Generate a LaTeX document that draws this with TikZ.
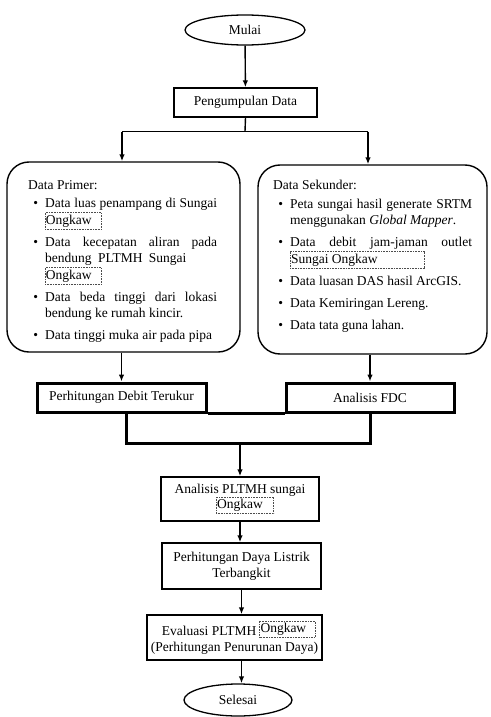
\documentclass[tikz,border=0pt]{standalone}
\usepackage{fontspec}
\setmainfont{Liberation Serif}
\usetikzlibrary{shapes.geometric,arrows.meta}
\hyphenpenalty=10000
\exhyphenpenalty=10000
\hbadness=10000
\newcommand\dotbox[2][0pt]{\tikz[baseline=(db.base)]{\node[inner xsep=0.8pt,inner ysep=2pt,outer sep=0pt,rectangle,draw=none,text width=,minimum width=0pt,minimum height=0pt,align=left](db){#2};\draw[overlay,black!70,densely dotted,line width=0.6pt,rounded corners=0pt] (db.north west) rectangle ([xshift=#1]db.south east);}}
\newenvironment{blist}{\begin{list}{\textbullet}{\setlength{\leftmargin}{17pt}\setlength{\labelsep}{7pt}\setlength{\labelwidth}{10pt}\setlength{\itemsep}{5.5pt}\setlength{\parsep}{0pt}\setlength{\topsep}{2pt}\setlength{\partopsep}{0pt}}}{\end{list}}
\begin{document}
\begin{tikzpicture}[x=1pt,y=-1pt,
  base/.style={font=\fontsize{13.5}{16.5}\selectfont},
  term/.style={ellipse,draw,line width=1.3pt,inner sep=0pt,base},
  proc/.style={rectangle,draw,line width=1.4pt,align=center,inner sep=0pt,base},
  boldbox/.style={rectangle,draw,line width=3pt,align=center,inner sep=0pt,base},
  panel/.style={rectangle,draw,line width=1.4pt,rounded corners=22pt,inner sep=0pt},
  paneltext/.style={anchor=north west,inner sep=0pt,align=justify,base},
  arr/.style={line width=1.4pt,-{Latex[length=7pt,width=5.5pt]}},
  ln/.style={line width=1.4pt},
  thk/.style={line width=3pt},
]
\useasboundingbox (0,0) rectangle (490,717);

\node[term,minimum width=120pt,minimum height=30pt] (mulai) at (245,30) {Mulai};
\node[proc,minimum width=143pt,minimum height=29pt] (peng) at (245.5,102.5) {Pengumpulan Data};

\node[panel,minimum width=233pt,minimum height=190pt] (primer) at (123.5,257) {};
\node[panel,minimum width=229pt,minimum height=189pt] (sekunder) at (372.5,259.5) {};

\node[paneltext,text width=189pt] (ptext) at (28,180) {Data Primer:
\begin{blist}
\item Data luas penampang di Sungai \dotbox[9pt]{Ongkaw}
\item Data kecepatan aliran pada bendung\hspace{3pt} PLTMH\hspace{3pt} Sungai\newline\dotbox[9pt]{Ongkaw}
\item Data beda tinggi dari lokasi bendung ke rumah kincir.
\item Data tinggi muka air pada pipa
\end{blist}};

\node[paneltext,text width=199pt] (stext) at (273,180) {Data Sekunder:
\begin{blist}
\item Peta sungai hasil generate SRTM menggunakan \textit{Global Mapper}.
\item Data debit jam-jaman outlet \dotbox[46pt]{Sungai Ongkaw}
\item Data luasan DAS hasil ArcGIS.
\item Data Kemiringan Lereng.
\item Data tata guna lahan.
\end{blist}};

\node[boldbox,minimum width=169pt,minimum height=29pt] (debit) at (121.5,397.5) {Perhitungan Debit Terukur};
\node[boldbox,minimum width=168pt,minimum height=29pt] (fdc) at (370,397.5) {Analisis FDC};

\node[proc,minimum width=158pt,minimum height=44pt,font=\fontsize{13.5}{14.5}\selectfont] (anal) at (240,499) {Analisis PLTMH sungai\\\dotbox[10pt]{Ongkaw}};
\node[proc,minimum width=159pt,minimum height=46pt,font=\fontsize{13.5}{16}\selectfont] (daya) at (241.5,566) {Perhitungan Daya Listrik\\Terbangkit};
\node[proc,minimum width=175pt,minimum height=45pt,font=\fontsize{13.5}{16}\selectfont] (eval) at (234.5,637.5) {Evaluasi PLTMH \raisebox{3pt}{\dotbox[8pt]{Ongkaw}}\\(Perhitungan Penurunan Daya)};
\node[term,minimum width=108pt,minimum height=32pt] (selesai) at (238,700) {Selesai};

\draw[arr] (mulai) -- (peng);
\coordinate (split) at (245,131.5);
\coordinate (sl) at (122,131.5);
\coordinate (sr) at (368,131.5);
\draw[ln] (peng.south) -- (split);
\draw[ln] (sl) -- (sr);
\draw[arr] (sl) -- (sl |- primer.north);
\draw[arr] (sr) -- (sr |- sekunder.north);

\draw[arr] (debit.north |- primer.south) -- (debit.north);
\draw[arr] (fdc.north |- sekunder.south) -- (fdc.north);

\coordinate (ul) at (126,443);
\coordinate (ur) at (370,443);
\draw[thk] (debit.south east) -- (fdc.south west);
\draw[thk] (debit.south -| ul) -- (ul) -- (ur) -- (fdc.south -| ur);

\draw[arr] (anal.north |- ul) -- (anal.north);
\draw[arr] (anal.south) -- (anal.south |- daya.north);
\draw[arr] (daya.south) -- (daya.south |- eval.north);
\draw[arr] (daya.south |- eval.south) -- (daya.south |- selesai.north);
\end{tikzpicture}
\end{document}
